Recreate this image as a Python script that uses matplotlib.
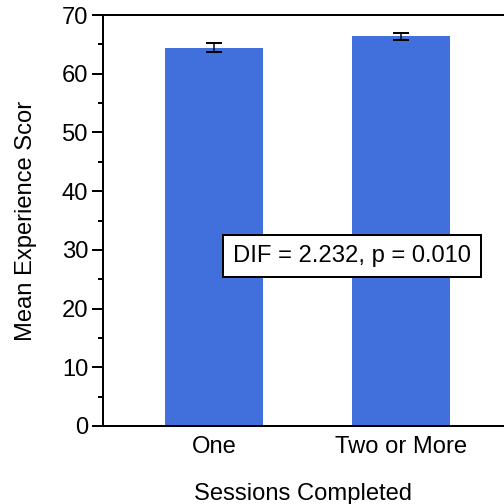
import matplotlib
matplotlib.use("Agg")
import matplotlib.pyplot as plt
from matplotlib.ticker import MultipleLocator

categories = ["One", "Two or More"]
means = [64.4, 66.4]
errors = [0.75, 0.6]
annotation = "DIF = 2.232, p = 0.010"

plt.rcParams['font.family'] = ['Liberation Sans', 'DejaVu Sans']
FS = 23.8

fig = plt.figure(figsize=(7, 7), dpi=72)
ax = fig.add_axes([103/504, 78/504, 1 - 103/504, (426-15)/504])

x = list(range(len(categories)))
ax.bar(x, means, width=0.525, color="#4170DD", zorder=2)
ax.errorbar(x, means, yerr=errors, fmt="none", ecolor="black", elinewidth=1.5,
            capsize=8, capthick=2, zorder=3)

ax.set_xlim(-0.594, 1.551)
ax.set_ylim(0, 70)
ax.yaxis.set_major_locator(MultipleLocator(10))
ax.yaxis.set_minor_locator(MultipleLocator(5))
ax.set_xticks(x)
ax.set_xticklabels(categories)

for s in ["left", "bottom", "top"]:
    ax.spines[s].set_linewidth(2)
ax.spines["right"].set_visible(False)

ax.tick_params(axis="y", which="major", direction="out", length=11, width=2, labelsize=FS, pad=4)
ax.tick_params(axis="y", which="minor", direction="out", length=5, width=2)
ax.tick_params(axis="x", which="major", length=0, labelsize=FS, pad=10)

ax.set_ylabel("Mean Experience Scor", fontsize=FS, labelpad=24)
ax.set_xlabel("Sessions Completed", fontsize=FS, labelpad=25)

ax.text(0.74, 29, annotation, fontsize=FS, ha="center", va="center", zorder=4,
        bbox=dict(boxstyle="square,pad=0.42", facecolor="white", edgecolor="black", linewidth=2))

fig.savefig("out.png", dpi=72)
